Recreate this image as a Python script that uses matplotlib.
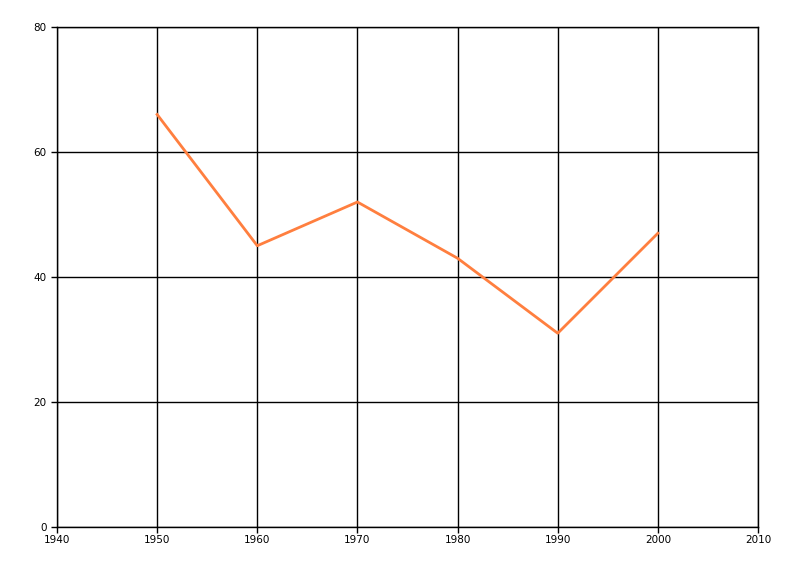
import matplotlib
matplotlib.use("Agg")
import matplotlib.pyplot as plt

years = [1950, 1960, 1970, 1980, 1990, 2000]
values = [66, 45, 52, 43, 31, 47]
x_ticks = [1940, 1950, 1960, 1970, 1980, 1990, 2000, 2010]
y_ticks = [0, 20, 40, 60, 80]

fig = plt.figure(figsize=(8, 5.76), dpi=100)
ax = fig.add_axes([57/800, 1-527/576, (758-57)/800, (527-27)/576])
ax.plot(years, values, color="#FF7F3F", lw=2, zorder=3)
ax.set_xlim(1940, 2010)
ax.set_ylim(0, 80)
ax.set_xticks(x_ticks)
ax.set_yticks(y_ticks)
ax.grid(True, color="black", lw=1)
for s in ["left", "bottom", "top", "right"]:
    ax.spines[s].set_linewidth(1)
    ax.spines[s].set_color("black")
ax.tick_params(axis="both", labelsize=7.5, length=4, width=1, colors="black")
ax.tick_params(axis="x", pad=2)
ax.set_axisbelow(True)
fig.savefig("out.png", dpi=100)
